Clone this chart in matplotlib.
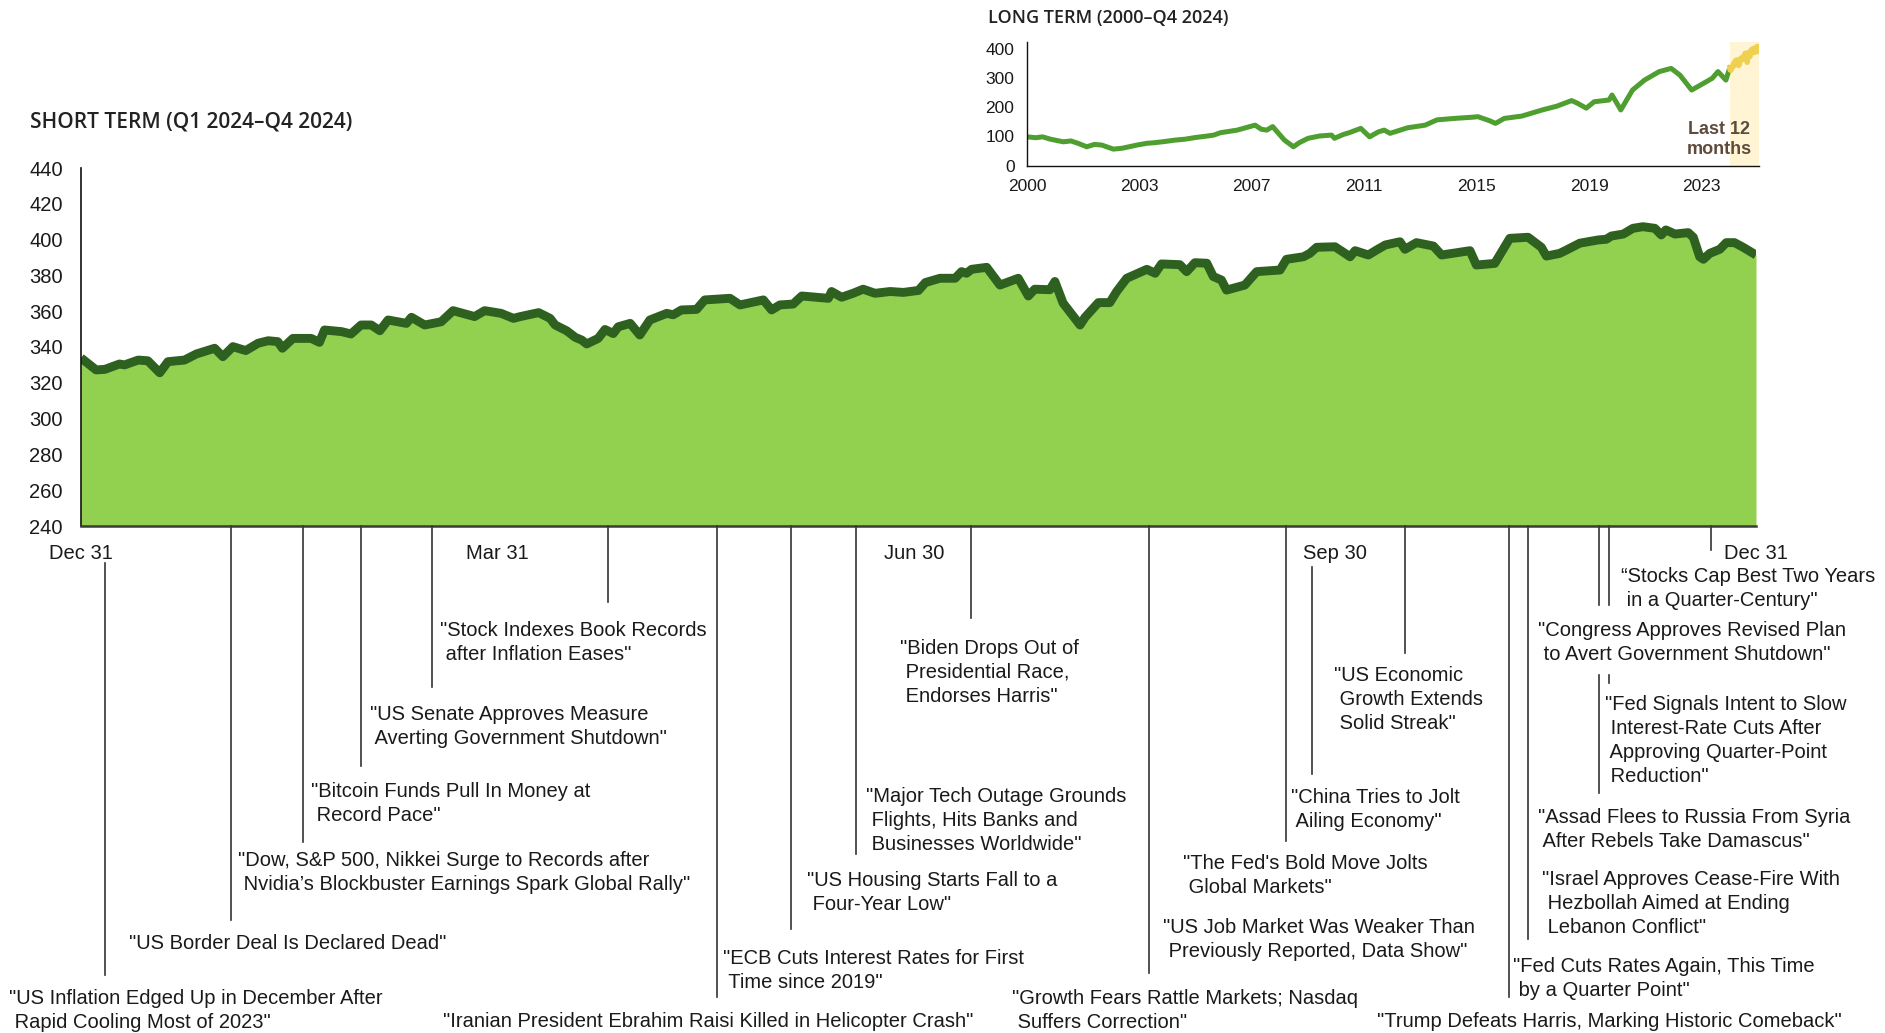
import matplotlib
matplotlib.use("Agg")
import matplotlib.pyplot as plt
import matplotlib.transforms as mtransforms
from matplotlib.lines import Line2D
import numpy as np

# ---------------- data ----------------
# Short term: days after Dec 31, 2023, index level
st_days = [0, 3.3, 5.2, 8.4, 9.5, 12.5, 14.6, 17.2, 19.0, 22.6, 25.2, 29.2, 31.0, 33.2, 36.0,
           38.7, 40.9, 43.0, 44.0, 46.3, 50.3, 52.1, 53.2, 56.9, 59.0, 61.2, 63.4, 65.3, 67.1,
           71.1, 72.2, 75.1, 78.7, 81.3, 86.0, 88.2, 91.8, 94.5, 96.0, 100.0, 102.5, 103.6,
           106.1, 108.0, 109.4, 110.5, 113.0, 114.5, 116.3, 117.4, 120.0, 122.1, 124.3, 128.0,
           129.4, 131.2, 134.5, 136.3, 141.8, 144.0, 149.1, 150.9, 152.7, 155.6, 157.5, 163.3,
           164.0, 166.2, 168.7, 170.9, 173.5, 176.8, 179.7, 183.0, 184.5, 187.7, 191.0, 192.4,
           193.5, 194.6, 197.9, 200.8, 204.8, 207.0, 208.4, 211.7, 212.8, 214.6, 218.3, 219.4,
           222.3, 224.8, 226.3, 228.5, 232.9, 234.7, 236.1, 240.1, 241.6, 243.4, 246.0, 247.4,
           249.2, 250.3, 254.3, 256.9, 262.0, 263.4, 267.1, 268.5, 270.0, 274.0, 275.5, 277.3,
           278.4, 281.3, 283.1, 285.0, 288.2, 289.3, 291.8, 295.5, 297.3, 303.5, 304.9, 308.9,
           312.2, 316.2, 319.1, 320.2, 323.1, 324.6, 327.5, 331.5, 333.3, 334.4, 337.0, 339.1,
           341.3, 343.9, 345.3, 346.3, 348.3, 351.2, 352.3, 353.7, 354.5, 355.9, 358.1, 359.5,
           361.3, 363.2, 366.0]
st_values = [333.9, 327.2, 327.5, 330.5, 330.0, 332.7, 332.3, 325.6, 331.8, 332.7, 336.1, 339.3,
             334.6, 340.2, 338.0, 342.1, 343.5, 343.0, 339.3, 344.8, 344.8, 342.6, 349.5, 348.6,
             347.3, 352.3, 352.3, 349.1, 355.1, 353.2, 356.6, 352.3, 354.1, 360.3, 357.0, 360.3,
             358.8, 356.0, 357.0, 359.2, 356.0, 352.3, 349.1, 345.4, 343.9, 341.7, 344.8, 349.8,
             347.5, 351.3, 353.2, 346.7, 355.1, 358.8, 358.0, 360.7, 361.0, 366.3, 367.2, 363.5,
             366.3, 360.7, 363.5, 364.0, 368.5, 367.2, 371.0, 367.8, 370.0, 372.3, 370.0, 371.0,
             370.5, 371.6, 376.0, 378.4, 378.4, 382.1, 381.2, 383.4, 384.5, 374.6, 378.4, 368.5,
             372.3, 372.0, 376.6, 364.5, 352.3, 356.6, 364.8, 364.8, 371.0, 378.4, 383.4, 381.2,
             386.4, 386.0, 382.1, 387.1, 386.8, 379.4, 377.4, 371.8, 374.6, 382.1, 383.0, 389.0,
             390.4, 392.3, 395.7, 396.0, 393.5, 390.4, 393.8, 391.4, 394.2, 397.0, 398.8, 394.6,
             398.3, 396.4, 391.4, 393.8, 385.8, 386.7, 400.7, 401.3, 395.7, 390.8, 392.3, 394.2,
             398.0, 399.8, 400.2, 402.0, 403.1, 406.3, 407.2, 406.3, 402.6, 405.4, 403.1, 403.9,
             401.3, 390.4, 389.0, 392.3, 394.6, 398.3, 398.3, 395.7, 391.4]

st_tick_days = [0, 91, 182, 274, 366]
st_tick_labels = ["Dec 31", "Mar 31", "Jun 30", "Sep 30", "Dec 31"]
st_yticks = [240, 260, 280, 300, 320, 340, 360, 380, 400, 420, 440]

# Long term: fractional year, index level (2000 to start of 2024)
lt_years = [2000.0, 2000.3, 2000.53, 2000.8, 2001.24, 2001.5, 2001.74, 2002.04, 2002.3,
            2002.55, 2002.95, 2003.25, 2003.76, 2004.1, 2004.36, 2004.7, 2005.07, 2005.4,
            2005.77, 2006.1, 2006.38, 2006.6, 2007.18, 2007.5, 2007.79, 2008.0, 2008.19,
            2008.39, 2008.79, 2009.1, 2009.3, 2009.6, 2010.0, 2010.4, 2010.5, 2010.8, 2011.0,
            2011.4, 2011.7, 2012.0, 2012.2, 2012.4, 2013.0, 2013.6, 2014.0, 2014.6, 2015.2,
            2015.4, 2015.8, 2016.0, 2016.3, 2016.9, 2017.6, 2018.1, 2018.6, 2018.8, 2019.1,
            2019.37, 2019.88, 2019.98, 2020.28, 2020.68, 2021.09, 2021.59, 2022.0, 2022.3,
            2022.7, 2023.0, 2023.4, 2023.6, 2023.87, 2024.0]
lt_values = [98, 95, 98, 90, 81, 84, 76, 64, 72, 70, 56, 59, 70, 76, 78, 82, 87, 90, 96, 100,
             104, 112, 121, 130, 138, 124, 121, 133, 87, 64, 78, 93, 101, 104, 93, 106, 112, 127,
             98, 115, 121, 110, 129, 138, 156, 161, 165, 167, 153, 144, 161, 169, 190, 203, 222,
             213, 196, 218, 224, 241, 190, 258, 292, 321, 332, 309, 258, 275, 298, 321, 292, 333.9]
lt_tick_pos = [2000.0, 2003.84, 2007.68, 2011.52, 2015.36, 2019.2, 2023.04]
lt_tick_labels = ["2000", "2003", "2007", "2011", "2015", "2019", "2023"]
lt_yticks = [0, 100, 200, 300, 400]

# Headlines: (event day, text)
headline_days = [5.2, 32.8, 48.4, 61.2, 76.6, 115.1, 138.9, 155.1, 169.3, 194.4,
                 233.3, 263.2, 268.9, 289.3, 312.0, 316.1, 331.8, 333.9, 356.2]
headlines = [
    '"US Inflation Edged Up in December After\n Rapid Cooling Most of 2023"',
    '"US Border Deal Is Declared Dead"',
    '"Dow, S&P 500, Nikkei Surge to Records after\n Nvidia\u2019s Blockbuster Earnings Spark Global Rally"',
    '"Bitcoin Funds Pull In Money at\n Record Pace"',
    '"US Senate Approves Measure\n Averting Government Shutdown"',
    '"Stock Indexes Book Records\n after Inflation Eases"',
    '"Iranian President Ebrahim Raisi Killed in Helicopter Crash"',
    '"ECB Cuts Interest Rates for First\n Time since 2019"',
    '"US Housing Starts Fall to a\n Four-Year Low"',
    '"Major Tech Outage Grounds\n Flights, Hits Banks and\n Businesses Worldwide"',
    '"Biden Drops Out of\n Presidential Race,\n Endorses Harris"',
    '"Growth Fears Rattle Markets; Nasdaq\n Suffers Correction"',
    '"The Fed\'s Bold Move Jolts\n Global Markets"',
    '"US Job Market Was Weaker Than\n Previously Reported, Data Show"',
    '"China Tries to Jolt\n Ailing Economy"',
    '"US Economic\n Growth Extends\n Solid Streak"',
    '"Trump Defeats Harris, Marking Historic Comeback"',
    '"Fed Cuts Rates Again, This Time\n by a Quarter Point"',
    '"Israel Approves Cease-Fire With\n Hezbollah Aimed at Ending\n Lebanon Conflict"',
    '"Assad Flees to Russia From Syria\n After Rebels Take Damascus"',
    '"Fed Signals Intent to Slow\n Interest-Rate Cuts After\n Approving Quarter-Point\n Reduction"',
    '"Congress Approves Revised Plan\n to Avert Government Shutdown"',
    '\u201cStocks Cap Best Two Years\n in a Quarter-Century"',
]

# ---------------- layout (pixels in the 1885x1033 canvas) ----------------
W, H = 1885, 1033
# connector segments: (index into headline_days, y_start_px, y_end_px)
connector_layout = [(0, 563, 975), (1, 526, 920), (2, 526, 842), (3, 526, 766), (4, 526, 687),
                    (5, 526, 602), (6, 526, 997), (7, 526, 929), (8, 526, 854), (9, 526, 618),
                    (10, 526, 973), (11, 526, 841), (12, 567, 774), (13, 526, 653),
                    (14, 526, 997), (15, 526, 939), (16, 526, 605), (16, 675, 793),
                    (17, 526, 605), (17, 675, 683), (18, 526, 550)]
# text blocks: (x_left_px, first_line_center_y_px)
text_layout = [(9, 997), (129, 942), (238, 859), (311, 790), (370, 713), (440, 629),
               (443, 1020), (723, 957), (807, 879), (866, 795), (900, 647), (1012, 997),
               (1183, 862), (1163, 926), (1291, 796), (1334, 674), (1377, 1020), (1513, 965),
               (1542, 878), (1538, 816), (1605, 703), (1538, 629), (1621, 575)]
PITCH = 24

FILL = "#92D050"
LINE = "#2E6020"
TXT = "#1a1a1a"
BODY_FONT = ["Liberation Sans", "DejaVu Sans"]
NARROW_FONT = ["Liberation Sans Narrow", "Liberation Sans", "DejaVu Sans"]
TITLE_FONT = ["Open Sans", "DejaVu Sans"]

plt.rcParams["font.family"] = BODY_FONT

fig = plt.figure(figsize=(W / 100, H / 100), dpi=100)
fig.patch.set_facecolor("white")


def fx(x):
    return x / W


def fy(y):
    return 1 - y / H


# ---------------- main chart ----------------
ax = fig.add_axes([fx(81), fy(526), fx(1756) - fx(81), fy(168) - fy(526)])
ax.fill_between(st_days, st_values, 240, color=FILL, lw=0, zorder=1)
ax.plot(st_days, st_values, color=LINE, lw=6.4, solid_joinstyle="round",
        solid_capstyle="butt", zorder=2)
ax.set_xlim(0, 366)
ax.set_ylim(240, 440)
ax.set_yticks(st_yticks)
ax.set_xticks(st_tick_days)
ax.set_xticklabels(st_tick_labels)
ax.tick_params(axis="y", length=0, pad=13, labelsize=14.5, labelcolor=TXT)
ax.tick_params(axis="x", length=0, pad=13, labelsize=14.5, labelcolor=TXT)
for s in ["top", "right"]:
    ax.spines[s].set_visible(False)
ax.spines["left"].set_color("#111111")
ax.spines["left"].set_linewidth(1.2)
ax.spines["bottom"].set_color("#3a3a3a")
ax.spines["bottom"].set_linewidth(1.8)
ax.spines["left"].set_zorder(3)
ax.spines["bottom"].set_zorder(3)

blend = mtransforms.blended_transform_factory(ax.transData, fig.transFigure)
for idx, y0, y1 in connector_layout:
    d = headline_days[idx]
    ln = Line2D([d, d], [fy(y0), fy(y1)], transform=blend, color="#333333", lw=1.2,
                clip_on=False)
    ax.add_artist(ln)

for (tx, ty), text in zip(text_layout, headlines):
    for i, line in enumerate(text.split("\n")):
        fig.text(fx(tx), fy(ty + i * PITCH + 7), line, ha="left", va="baseline",
                 fontsize=14.5, color=TXT, family=BODY_FONT)

fig.text(fx(30), fy(122), "SHORT TERM (Q1 2024\u2013Q4 2024)", ha="left", va="center",
         fontsize=15, color="#222222", family=TITLE_FONT, fontweight="semibold")

# ---------------- inset (long term) ----------------
ax2 = fig.add_axes([fx(1027), fy(165.5), fx(1759) - fx(1027), fy(41.5) - fy(165.5)])
ax2.axvspan(2024.0, 2025.0, color="#FFF4D4", lw=0, zorder=0)
ax2.plot(lt_years, lt_values, color="#4E9F2F", lw=3.6, solid_joinstyle="round", zorder=2)
yr_last = [2024.0 + d / 366.0 for d in st_days]
ax2.plot(yr_last, st_values, color="#F0D050", lw=3.8, solid_joinstyle="round", zorder=3)
ax2.set_xlim(2000, 2025)
ax2.set_ylim(0, 424)
ax2.set_yticks(lt_yticks)
ax2.set_xticks(lt_tick_pos)
ax2.set_xticklabels(lt_tick_labels)
ax2.tick_params(axis="y", length=0, pad=9, labelsize=12.5, labelcolor=TXT)
ax2.tick_params(axis="x", length=0, pad=10, labelsize=12.5, labelcolor=TXT)
for lab in ax2.get_xticklabels() + ax2.get_yticklabels():
    lab.set_family(NARROW_FONT)
for s in ["top", "right"]:
    ax2.spines[s].set_visible(False)
ax2.spines["left"].set_color("#111111")
ax2.spines["bottom"].set_color("#111111")
ax2.spines["left"].set_linewidth(1.0)
ax2.spines["bottom"].set_linewidth(1.0)
ax2.patch.set_alpha(0)

fig.text(fx(1719), fy(129), "Last 12", ha="center", va="center", fontsize=13,
         fontweight="bold", color="#5E4B3C", family=NARROW_FONT)
fig.text(fx(1719), fy(150), "months", ha="center", va="center", fontsize=13,
         fontweight="bold", color="#5E4B3C", family=NARROW_FONT)

fig.text(fx(988), fy(18), "LONG TERM (2000\u2013Q4 2024)", ha="left", va="center",
         fontsize=13, color="#222222", family=TITLE_FONT, fontweight="semibold")

fig.savefig("out.png", dpi=100, facecolor="white")
